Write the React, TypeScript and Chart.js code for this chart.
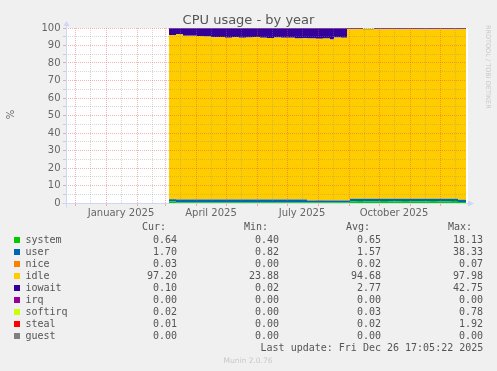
import React, { useEffect, useRef } from "react";
import { Chart, registerables } from "chart.js";

Chart.register(...registerables);

// ---- Data (days counted from 1 Jan 2025) ----
const days = [63, 70, 77, 84, 91, 98, 105, 112, 119, 126, 133, 140, 147, 154, 161, 168, 175, 182, 189, 196, 201, 210, 217, 224, 228, 235, 241, 244, 251, 257, 268, 275, 282, 289, 296, 303, 310, 317, 324, 331, 338, 345, 352, 360];

const systemVals = [0.9, 0.5, 0.5, 0.5, 0.5, 0.5, 0.5, 0.5, 0.5, 0.5, 0.5, 0.5, 0.5, 0.5, 0.5, 0.5, 0.5, 0.5, 0.5, 0.5, 0.4, 0.4, 0.4, 0.4, 0.4, 0.4, 0.4, 1.0, 1.1, 1.0, 1.0, 1.1, 1.0, 1.0, 1.1, 1.0, 1.0, 1.0, 1.1, 1.0, 1.0, 1.1, 0.6, 0.6];
const userVals = [1.2, 1.5, 1.5, 1.5, 1.5, 1.5, 1.5, 1.5, 1.5, 1.5, 1.5, 1.5, 1.5, 1.5, 1.5, 1.5, 1.5, 1.5, 1.5, 1.5, 1.0, 1.0, 1.0, 1.0, 1.0, 1.0, 1.0, 1.4, 1.3, 1.4, 1.4, 1.3, 1.4, 1.4, 1.3, 1.4, 1.4, 1.4, 1.3, 1.4, 1.4, 1.3, 1.3, 1.3];
const niceVals = [0, 0, 0, 0, 0, 0, 0, 0, 0, 0, 0, 0, 0, 0, 0, 0, 0, 0, 0, 0, 0, 0.3, 0.2, 0, 0, 0, 0, 0, 0, 0, 0, 0, 0, 0, 0, 0, 0, 0, 0, 0, 0, 0, 0, 0];
const idleVals = [93.9, 94.4, 93.6, 93.6, 93.5, 93.1, 92.7, 92.8, 92.5, 92.7, 92.4, 92.6, 92.8, 92.5, 92.3, 92.6, 92.4, 92.5, 92.0, 92.1, 92.6, 92.2, 92.4, 92.1, 93.2, 93.1, 97.9, 96.9, 97.0, 96.8, 96.9, 96.9, 97.0, 96.9, 96.9, 97.0, 96.9, 96.9, 96.9, 97.0, 96.9, 96.9, 97.6, 97.6];
const iowaitVals = [3.9, 3.5, 4.3, 4.3, 4.4, 4.8, 5.2, 5.1, 5.4, 5.2, 5.5, 5.3, 5.1, 5.4, 5.6, 5.3, 5.5, 5.4, 5.9, 5.8, 5.9, 6.0, 5.9, 6.4, 5.3, 5.4, 0.6, 0.6, 0.5, 0.2, 0.6, 0.6, 0.5, 0.6, 0.6, 0.5, 0.6, 0.6, 0.6, 0.5, 0.6, 0.6, 0.4, 0.4];
const irqVals = [0, 0, 0, 0, 0, 0, 0, 0, 0, 0, 0, 0, 0, 0, 0, 0, 0, 0, 0, 0, 0, 0, 0, 0, 0, 0, 0, 0, 0, 0, 0, 0, 0, 0, 0, 0, 0, 0, 0, 0, 0, 0, 0, 0];
const softirqVals = [0, 0, 0, 0, 0, 0, 0, 0, 0, 0, 0, 0, 0, 0, 0, 0, 0, 0, 0, 0, 0, 0, 0, 0, 0, 0, 0, 0, 0, 0.5, 0, 0, 0, 0, 0, 0, 0, 0, 0, 0, 0, 0, 0, 0];
const stealVals = [0, 0, 0, 0, 0, 0, 0, 0, 0, 0, 0, 0, 0, 0, 0, 0, 0, 0, 0, 0, 0, 0, 0, 0, 0, 0, 0, 0, 0, 0, 0, 0, 0, 0, 0, 0, 0, 0, 0, 0, 0, 0, 0, 0];
const guestVals = [0, 0, 0, 0, 0, 0, 0, 0, 0, 0, 0, 0, 0, 0, 0, 0, 0, 0, 0, 0, 0, 0, 0, 0, 0, 0, 0, 0, 0, 0, 0, 0, 0, 0, 0, 0, 0, 0, 0, 0, 0, 0, 0, 0];

const seriesNames = ["system", "user", "nice", "idle", "iowait", "irq", "softirq", "steal", "guest"];
const seriesColors = ["#00CC00", "#0066B3", "#FF8000", "#FFCC00", "#330099", "#990099", "#CCFF00", "#FF0000", "#808080"];
const seriesValues = [systemVals, userVals, niceVals, idleVals, iowaitVals, irqVals, softirqVals, stealVals, guestVals];

const curVals = ["0.64", "1.70", "0.03", "97.20", "0.10", "0.00", "0.02", "0.01", "0.00"];
const minVals = ["0.40", "0.82", "0.00", "23.88", "0.02", "0.00", "0.00", "0.00", "0.00"];
const avgVals = ["0.65", "1.57", "0.02", "94.68", "2.77", "0.00", "0.03", "0.02", "0.00"];
const maxVals = ["18.13", "38.33", "0.07", "97.98", "42.75", "0.00", "0.78", "1.92", "0.00"];

// ---- Axis ticks ----
const xMin = -40;
const xMax = 360;
const monthStartDays = [-31, 0, 31, 59, 90, 120, 151, 181, 212, 243, 273, 304, 334];
const midMonthDays = [-16, 15, 46, 74, 105, 135, 166, 196, 227, 258, 288, 319, 349];
const xLabelDays = [15, 105, 196, 288];
const xLabelTexts = ["January 2025", "April 2025", "July 2025", "October 2025"];
const yMin = 0;
const yMax = 100;
const yStep = 5;

const FONT = "#666666";
const TEXT = "#555555";
const AXIS = "#CFD6F8";
const MGRID = "rgba(222,79,79,0.42)";
const GRID = "rgba(140,140,140,0.35)";

export default function App() {
  const ref = useRef<HTMLCanvasElement>(null);

  useEffect(() => {
    const canvas = ref.current;
    if (!canvas) return;

    const bgPlugin = {
      id: "canvasBg",
      beforeDraw(chart: any) {
        const { ctx, chartArea: a } = chart;
        ctx.save();
        ctx.fillStyle = "#FFFFFF";
        ctx.fillRect(a.left, a.top, a.right - a.left + 2, a.bottom - a.top);
        ctx.restore();
      },
    };

    const axisPlugin = {
      id: "axisArrows",
      afterDraw(chart: any) {
        const { ctx, chartArea: a } = chart;
        const x0 = a.left + 0.5;
        const y0 = a.bottom + 0.5;
        ctx.save();
        ctx.strokeStyle = AXIS;
        ctx.fillStyle = AXIS;
        ctx.lineWidth = 1;
        ctx.beginPath();
        ctx.moveTo(x0, y0 + 4);
        ctx.lineTo(x0, a.top - 2);
        ctx.stroke();
        ctx.beginPath();
        ctx.moveTo(x0 - 3, a.top - 2);
        ctx.lineTo(x0 + 3, a.top - 2);
        ctx.lineTo(x0, a.top - 7);
        ctx.closePath();
        ctx.fill();
        ctx.beginPath();
        ctx.moveTo(a.left - 4, y0);
        ctx.lineTo(a.right + 2, y0);
        ctx.stroke();
        ctx.beginPath();
        ctx.moveTo(a.right + 2, y0 - 3);
        ctx.lineTo(a.right + 2, y0 + 3);
        ctx.lineTo(a.right + 8, y0);
        ctx.closePath();
        ctx.fill();
        ctx.restore();
      },
    };

    const isMonth = (v: number) => monthStartDays.indexOf(v) >= 0;
    const allXTicks = [...monthStartDays, ...midMonthDays].sort((a, b) => a - b);

    const chart = new Chart(canvas, {
      type: "line",
      data: {
        datasets: seriesNames.map((name, i) => ({
          label: name,
          data: days.map((d, j) => ({ x: d, y: seriesValues[i][j] })),
          backgroundColor: seriesColors[i],
          borderColor: "rgba(0,0,0,0)",
          borderWidth: 0,
          pointRadius: 0,
          pointHoverRadius: 0,
          fill: i === 0 ? "origin" : "-1",
          stepped: true,
        })),
      },
      options: {
        responsive: false,
        animation: false,
        devicePixelRatio: 1,
        events: [],
        layout: { padding: { left: 0, top: 28, right: 31, bottom: 148 } },
        plugins: {
          legend: { display: false },
          tooltip: { enabled: false },
          title: { display: false },
        },
        scales: {
          x: {
            type: "linear",
            min: xMin,
            max: xMax,
            afterBuildTicks: (s: any) => {
              s.ticks = allXTicks.map((v) => ({ value: v }));
            },
            afterFit: (s: any) => {
              s.height = 20;
            },
            ticks: {
              autoSkip: false,
              maxRotation: 0,
              minRotation: 0,
              padding: 1,
              color: FONT,
              font: { family: "DejaVu Sans", size: 10 },
              callback: (v: any) => {
                const i = xLabelDays.indexOf(Number(v));
                return i >= 0 ? xLabelTexts[i] : "";
              },
            },
            grid: {
              color: (c: any) => (isMonth(c.tick.value) ? MGRID : GRID),
              tickColor: (c: any) => (isMonth(c.tick.value) ? MGRID : "rgba(0,0,0,0)"),
              tickLength: 3,
              lineWidth: 1,
              z: 1,
            },
            border: { display: false, dash: [1, 1] },
          },
          y: {
            type: "linear",
            min: yMin,
            max: yMax,
            stacked: true,
            afterFit: (s: any) => {
              s.width = 66;
            },
            ticks: {
              stepSize: yStep,
              autoSkip: false,
              padding: 2.5,
              color: FONT,
              font: { family: "DejaVu Sans", size: 10 },
              callback: (v: any) => (Number(v) % 10 === 0 ? String(v) : ""),
            },
            grid: {
              color: (c: any) =>
                c.tick.value === 0 ? "rgba(0,0,0,0)" : c.tick.value % 10 === 0 ? MGRID : GRID,
              tickColor: (c: any) => (c.tick.value % 10 === 0 ? MGRID : GRID),
              tickLength: 3,
              lineWidth: 1,
              z: 1,
            },
            border: { display: false, dash: [1, 1] },
          },
        },
      },
      plugins: [bgPlugin, axisPlugin],
    } as any);

    return () => chart.destroy();
  }, []);

  const rowBase = 243.3;
  const rowStep = 12;
  const colEnds = [177, 279, 381, 483];
  const headers = ["Cur:", "Min:", "Avg:", "Max:"];
  const mono = "DejaVu Sans Mono";

  return (
    <div
      style={{
        position: "absolute",
        left: 0,
        top: 0,
        width: 497,
        height: 371,
        background: "#F0F0F0",
        overflow: "hidden",
      }}
    >
      <canvas
        ref={ref}
        width={497}
        height={371}
        style={{ position: "absolute", left: 0, top: 0, width: 497, height: 371 }}
      />
      <svg
        width={497}
        height={371}
        style={{ position: "absolute", left: 0, top: 0, pointerEvents: "none" }}
      >
        <text x={248.5} y={23.5} textAnchor="middle" fontFamily="DejaVu Sans" fontSize={13} fill={TEXT}>
          CPU usage - by year
        </text>
        <text
          transform="translate(14,114.5) rotate(-90)"
          textAnchor="middle"
          fontFamily="DejaVu Sans"
          fontSize={10}
          fill={FONT}
        >
          %
        </text>
        <text
          transform="translate(485.6,25) rotate(90)"
          textAnchor="start"
          fontFamily="DejaVu Sans"
          fontSize={6.5}
          fill="#C8C8C8"
        >
          RRDTOOL / TOBI OETIKER
        </text>
        {headers.map((h, k) => (
          <text key={h} x={colEnds[k] - 11} y={230.3} textAnchor="end" fontFamily={mono} fontSize={10} fill={TEXT}>
            {h}
          </text>
        ))}
        {seriesNames.map((name, i) => {
          const y = rowBase + rowStep * i;
          const vals = [curVals[i], minVals[i], avgVals[i], maxVals[i]];
          return (
            <g key={name}>
              <rect x={14} y={y - 6.3} width={6} height={6} fill={seriesColors[i]} />
              <text x={25.5} y={y} fontFamily={mono} fontSize={10} fill={TEXT}>
                {name}
              </text>
              {vals.map((v, k) => (
                <text key={k} x={colEnds[k]} y={y} textAnchor="end" fontFamily={mono} fontSize={10} fill={TEXT}>
                  {v}
                </text>
              ))}
            </g>
          );
        })}
        <text x={483.3} y={351.3} textAnchor="end" fontFamily={mono} fontSize={10} fill={TEXT}>
          Last update: Fri Dec 26 17:05:22 2025
        </text>
        <text x={248} y={363} textAnchor="middle" fontFamily="DejaVu Sans" fontSize={7.5} fill="#C8C8C8">
          Munin 2.0.76
        </text>
      </svg>
    </div>
  );
}
